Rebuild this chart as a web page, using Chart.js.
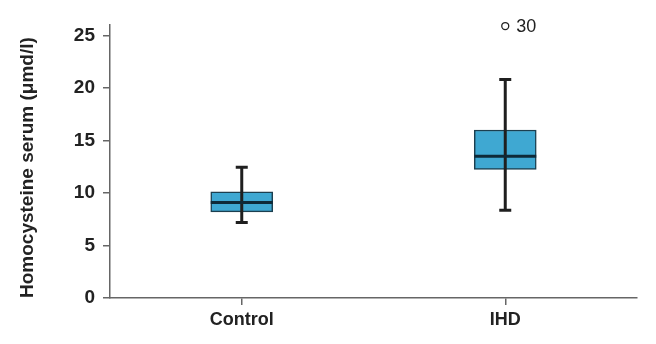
<!DOCTYPE html>
<html>
<head>
<meta charset="utf-8">
<script src="https://cdn.jsdelivr.net/npm/chart.js@4.4.1/dist/chart.umd.min.js"></script>
<style>
  html, body { margin: 0; padding: 0; background: #fff; }
  #wrap { width: 656px; height: 344px; position: relative; }
</style>
</head>
<body>
<div id="wrap"><canvas id="chart"></canvas></div>
<script>
// Boxplot de homocisteína: caja = barra flotante, bigotes y mediana con un plugin
const categories = ['Control', 'IHD'];
const q1 = [8.2, 12.25];
const q3 = [10.1, 16.0];
const medians = [9.1, 13.5];
const whiskerLow = [7.2, 8.35];
const whiskerHigh = [12.45, 20.8];
const outliers = [null, 25.9];
const outlierIds = [null, '30'];
const yTicks = [0, 5, 10, 15, 20, 25];

const FONT = 'Liberation Sans, Arial, Helvetica, sans-serif';

const boxExtras = {
    id: 'boxExtras',
    afterDatasetsDraw(chart) {
        const { ctx, scales: { x, y } } = chart;
        const boxes = chart.getDatasetMeta(0).data;
        ctx.save();
        categories.forEach((c, i) => {
            const cx = x.getPixelForValue(i);
            const half = boxes[i].width / 2;
            const cap = 6;
            // bigote vertical y topes
            ctx.strokeStyle = '#1f1f1f';
            ctx.lineWidth = 3;
            ctx.beginPath();
            ctx.moveTo(cx, y.getPixelForValue(whiskerLow[i]));
            ctx.lineTo(cx, y.getPixelForValue(whiskerHigh[i]));
            [whiskerLow[i], whiskerHigh[i]].forEach(v => {
                const py = y.getPixelForValue(v);
                ctx.moveTo(cx - cap, py);
                ctx.lineTo(cx + cap, py);
            });
            ctx.stroke();
            // mediana
            ctx.strokeStyle = '#0e2a38';
            ctx.lineWidth = 3;
            ctx.beginPath();
            const my = y.getPixelForValue(medians[i]);
            ctx.moveTo(cx - half, my);
            ctx.lineTo(cx + half, my);
            ctx.stroke();
        });
        // etiqueta del caso atípico
        const pts = chart.getDatasetMeta(1).data;
        ctx.fillStyle = '#222';
        ctx.font = '18px ' + FONT;
        ctx.textAlign = 'left';
        ctx.textBaseline = 'middle';
        outlierIds.forEach((id, i) => {
            if (!id || outliers[i] == null) return;
            ctx.fillText(id, pts[i].x + 11, pts[i].y + 1);
        });
        ctx.restore();
    }
};

new Chart(document.getElementById('chart'), {
    type: 'bar',
    data: {
        labels: categories,
        datasets: [{
            data: categories.map((c, i) => [q1[i], q3[i]]),
            backgroundColor: '#3fa8d2',
            borderColor: '#1c3f4f',
            borderWidth: 1.5,
            borderSkipped: false,
            barThickness: 62
        }, {
            type: 'line',
            data: outliers,
            showLine: false,
            clip: false,
            pointRadius: 3.5,
            pointBackgroundColor: '#fff',
            pointBorderColor: '#222',
            pointBorderWidth: 1.3
        }]
    },
    options: {
        responsive: true,
        maintainAspectRatio: false,
        animation: false,
        layout: { padding: { top: 25, right: 19, left: 8, bottom: 0 } },
        plugins: {
            legend: { display: false },
            tooltip: { enabled: false }
        },
        scales: {
            x: {
                offset: true,
                grid: { offset: false, drawOnChartArea: false, drawTicks: true, tickLength: 7, color: '#666', lineWidth: 1.5 },
                border: { color: '#666', width: 1.5 },
                ticks: { color: '#222', padding: 4, font: { family: FONT, size: 18, weight: 'bold' } },
                afterFit(scale) { scale.height = 46; }
            },
            y: {
                min: 0,
                max: 26,
                afterBuildTicks(scale) { scale.ticks = yTicks.map(v => ({ value: v })); },
                grid: { drawOnChartArea: false, drawTicks: true, tickLength: 7, color: '#666', lineWidth: 1.5 },
                border: { color: '#666', width: 1.5 },
                ticks: { color: '#222', padding: 8, font: { family: FONT, size: 19, weight: 'bold' } },
                title: {
                    display: true,
                    text: 'Homocysteine serum (μmd/l)',
                    color: '#222',
                    align: 'start',
                    padding: { top: 8, bottom: 0 },
                    font: { family: FONT, size: 19, weight: 'bold' }
                },
                afterFit(scale) { scale.width = 102; }
            }
        }
    },
    plugins: [boxExtras]
});
</script>
</body>
</html>
